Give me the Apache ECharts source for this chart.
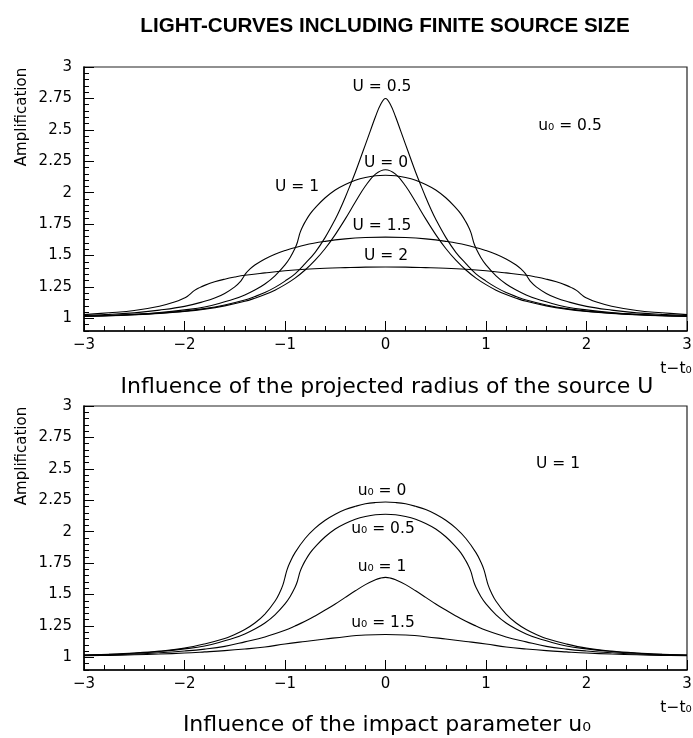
<!DOCTYPE html>
<html>
<head>
<meta charset="utf-8">
<script src="https://cdn.jsdelivr.net/npm/echarts@6/dist/echarts.min.js"></script>
<style>
  html, body { margin: 0; padding: 0; background: #ffffff; }
  #chart { width: 693px; height: 738px; }
</style>
</head>
<body>
<div id="chart"></div>
<script>
// Light curves of a uniform finite source, sampled for t - t0 >= 0.
// Every curve is symmetric about t0, so the negative side reuses the same values.

// Upper panel: u0 = 0.5, projected source radius U varies
const tTopU0  = [0, 0.1, 0.2, 0.3, 0.4, 0.5, 0.6, 0.7, 0.8, 0.9, 1.0, 1.1, 1.2, 1.3, 1.4, 1.6, 1.8, 2.0, 2.25, 2.5, 2.75, 3.0];
const aTopU0  = [2.183, 2.148, 2.053, 1.926, 1.792, 1.667, 1.556, 1.463, 1.385, 1.321, 1.269, 1.225, 1.190, 1.161, 1.136, 1.100, 1.074, 1.056, 1.040, 1.029, 1.021, 1.016];

const tTopU05 = [0, 0.05, 0.1, 0.15, 0.2, 0.25, 0.3, 0.35, 0.4, 0.45, 0.5, 0.6, 0.7, 0.8, 0.9, 1.0, 1.1, 1.2, 1.3, 1.4, 1.6, 1.8, 2.0, 2.25, 2.5, 2.75, 3.0];
const aTopU05 = [2.749, 2.700, 2.604, 2.494, 2.383, 2.272, 2.163, 2.062, 1.964, 1.872, 1.789, 1.645, 1.526, 1.436, 1.355, 1.297, 1.247, 1.206, 1.174, 1.146, 1.107, 1.078, 1.058, 1.042, 1.030, 1.022, 1.017];

const tTopU1  = [0, 0.1, 0.2, 0.3, 0.4, 0.5, 0.6, 0.7, 0.75, 0.8, 0.83, 0.85, 0.866, 0.88, 0.9, 0.95, 1.0, 1.1, 1.2, 1.3, 1.4, 1.5, 1.6, 1.8, 2.0, 2.25, 2.5, 2.75, 3.0];
const aTopU1  = [2.139, 2.135, 2.121, 2.099, 2.066, 2.022, 1.960, 1.880, 1.832, 1.768, 1.721, 1.682, 1.637, 1.598, 1.558, 1.483, 1.426, 1.339, 1.274, 1.226, 1.187, 1.156, 1.132, 1.091, 1.068, 1.047, 1.033, 1.024, 1.018];

const tTopU15 = [0, 0.2, 0.4, 0.6, 0.8, 1.0, 1.1, 1.2, 1.3, 1.35, 1.39, 1.414, 1.44, 1.5, 1.6, 1.7, 1.8, 2.0, 2.25, 2.5, 2.75, 3.0];
const aTopU15 = [1.647, 1.644, 1.633, 1.613, 1.584, 1.540, 1.511, 1.473, 1.425, 1.392, 1.358, 1.328, 1.297, 1.251, 1.199, 1.162, 1.136, 1.096, 1.066, 1.044, 1.032, 1.023];

const tTopU2  = [0, 0.2, 0.4, 0.6, 0.8, 1.0, 1.2, 1.4, 1.5, 1.6, 1.7, 1.8, 1.85, 1.9, 1.936, 1.97, 2.0, 2.1, 2.25, 2.5, 2.75, 3.0];
const aTopU2  = [1.409, 1.408, 1.404, 1.399, 1.391, 1.379, 1.362, 1.343, 1.329, 1.312, 1.291, 1.263, 1.245, 1.223, 1.199, 1.177, 1.163, 1.130, 1.097, 1.063, 1.045, 1.030];

// Lower panel: U = 1, impact parameter u0 varies (u0 = 0.5 is the U = 1 curve above)
const tBotU00 = [0, 0.1, 0.2, 0.3, 0.4, 0.5, 0.6, 0.7, 0.8, 0.9, 0.95, 0.98, 1.0, 1.02, 1.05, 1.1, 1.2, 1.3, 1.4, 1.5, 1.6, 1.8, 2.0, 2.25, 2.5, 2.75, 3.0];
const aBotU00 = [2.236, 2.232, 2.222, 2.202, 2.176, 2.139, 2.091, 2.028, 1.946, 1.834, 1.757, 1.697, 1.637, 1.579, 1.520, 1.447, 1.345, 1.274, 1.222, 1.182, 1.150, 1.107, 1.074, 1.050, 1.035, 1.025, 1.018];

const tBotU05 = tTopU1;
const aBotU05 = aTopU1;

const tBotU10 = [0, 0.05, 0.1, 0.2, 0.3, 0.4, 0.5, 0.6, 0.7, 0.8, 0.9, 1.0, 1.2, 1.4, 1.6, 1.8, 2.0, 2.25, 2.5, 2.75, 3.0];
const aBotU10 = [1.637, 1.631, 1.618, 1.579, 1.530, 1.478, 1.425, 1.377, 1.330, 1.287, 1.250, 1.216, 1.163, 1.124, 1.088, 1.066, 1.051, 1.037, 1.027, 1.020, 1.015];

const tBotU15 = [0, 0.2, 0.4, 0.6, 0.8, 1.0, 1.2, 1.4, 1.6, 1.8, 2.0, 2.25, 2.5, 2.75, 3.0];
const aBotU15 = [1.182, 1.178, 1.165, 1.146, 1.127, 1.107, 1.083, 1.067, 1.054, 1.044, 1.035, 1.027, 1.021, 1.016, 1.013];

// Axis ticks
const xTicks = [-3, -2, -1, 0, 1, 2, 3];
const yTicks = [1, 1.25, 1.5, 1.75, 2, 2.25, 2.5, 2.75, 3];

const FONT = '"DejaVu Sans", "Liberation Sans", sans-serif';

// Join the mirrored negative half with the sampled positive half.
function curve(ts, as) {
  const pts = [];
  for (let i = ts.length - 1; i > 0; i--) pts.push([-ts[i], as[i]]);
  for (let i = 0; i < ts.length; i++) pts.push([ts[i], as[i]]);
  return pts;
}

function xAxisFor(g) {
  return {
    gridIndex: g, type: 'value', min: xTicks[0], max: xTicks[xTicks.length - 1], interval: 1,
    axisLine: { show: true, onZero: false, lineStyle: { color: '#000', width: 1.5 } },
    axisTick: { show: true, inside: true, length: 10, lineStyle: { color: '#000', width: 1 } },
    minorTick: { show: true, splitNumber: 5, length: 5, lineStyle: { color: '#000', width: 1 } },
    axisLabel: {
      show: true, margin: 7, color: '#000', fontSize: 15, fontFamily: FONT,
      showMinLabel: true, showMaxLabel: true,
      formatter: v => (v < 0 ? '\u2212' + Math.abs(v) : String(v))
    },
    splitLine: { show: false }, minorSplitLine: { show: false }
  };
}

function yAxesFor(g) {
  return [
    {
      gridIndex: g, type: 'value', min: 0.9, max: 3, position: 'left',
      axisLine: { show: true, onZero: false, lineStyle: { color: '#000', width: 1.5 } },
      axisTick: { show: true, inside: true, length: 10, customValues: yTicks, lineStyle: { color: '#000', width: 1 } },
      axisLabel: { show: true, customValues: yTicks, margin: 12, color: '#000', fontSize: 15, fontFamily: FONT,
                   formatter: v => String(v) },
      splitLine: { show: false }
    },
    {
      // finer tick marks every 0.05 along the same left edge
      gridIndex: g, type: 'value', min: 0.9, max: 3, interval: 0.05, position: 'left',
      axisLine: { show: false, onZero: false },
      axisTick: { show: true, inside: true, length: 5, lineStyle: { color: '#000', width: 1 } },
      axisLabel: { show: false },
      splitLine: { show: false }
    }
  ];
}

function lineSeries(g, ts, as) {
  return {
    type: 'line', xAxisIndex: g, yAxisIndex: 2 * g,
    data: curve(ts, as),
    showSymbol: false, symbol: 'none',
    smooth: 0.4,
    lineStyle: { color: '#000', width: 1.1 },
    silent: true, animation: false, z: 3
  };
}

function txt(x, y, text, size, extra) {
  return Object.assign({
    type: 'text', x: x, y: y, silent: true,
    style: Object.assign({
      text: text, fill: '#000', fontSize: size, fontFamily: FONT,
      align: 'center', verticalAlign: 'middle'
    }, (extra && extra.style) || {})
  }, (extra && extra.el) || {});
}

const chart = echarts.init(document.getElementById('chart'), null, { renderer: 'canvas' });

chart.setOption({
  backgroundColor: '#ffffff',
  animation: false,
  grid: [
    { left: 84, top: 67, width: 603, height: 264, show: true, borderColor: '#222', borderWidth: 1.2,
      backgroundColor: 'transparent', containLabel: false, outerBoundsMode: 'none' },
    { left: 84, top: 406, width: 603, height: 264, show: true, borderColor: '#222', borderWidth: 1.2,
      backgroundColor: 'transparent', containLabel: false, outerBoundsMode: 'none' }
  ],
  xAxis: [xAxisFor(0), xAxisFor(1)],
  yAxis: yAxesFor(0).concat(yAxesFor(1)),
  series: [
    lineSeries(0, tTopU0, aTopU0),
    lineSeries(0, tTopU05, aTopU05),
    lineSeries(0, tTopU1, aTopU1),
    lineSeries(0, tTopU15, aTopU15),
    lineSeries(0, tTopU2, aTopU2),
    lineSeries(1, tBotU00, aBotU00),
    lineSeries(1, tBotU05, aBotU05),
    lineSeries(1, tBotU10, aBotU10),
    lineSeries(1, tBotU15, aBotU15)
  ],
  graphic: [
    txt(385, 26, 'LIGHT-CURVES INCLUDING FINITE SOURCE SIZE', 20.6,
        { style: { fontWeight: 'bold', fontFamily: '"Liberation Sans", Arial, sans-serif' } }),

    // upper panel
    txt(22, 117, 'Amplification', 15, { el: { rotation: Math.PI / 2 } }),
    txt(382, 87, 'U = 0.5', 15.5),
    txt(386, 163, 'U = 0', 15.5),
    txt(297, 187, 'U = 1', 15.5),
    txt(382, 226, 'U = 1.5', 15.5),
    txt(386, 256, 'U = 2', 15.5),
    txt(570, 126, 'u\u2080 = 0.5', 15.5),
    txt(676, 369, 't\u2212t\u2080', 15.5),
    txt(387, 387, 'Influence of the projected radius of the source U', 22),

    // lower panel
    txt(22, 456, 'Amplification', 15, { el: { rotation: Math.PI / 2 } }),
    txt(558, 464, 'U = 1', 15.5),
    txt(382, 491, 'u\u2080 = 0', 15.5),
    txt(383, 529, 'u\u2080 = 0.5', 15.5),
    txt(382, 567, 'u\u2080 = 1', 15.5),
    txt(383, 623, 'u\u2080 = 1.5', 15.5),
    txt(676, 708, 't\u2212t\u2080', 15.5),
    txt(387, 725, 'Influence of the impact parameter u\u2080', 22)
  ]
});
</script>
</body>
</html>
